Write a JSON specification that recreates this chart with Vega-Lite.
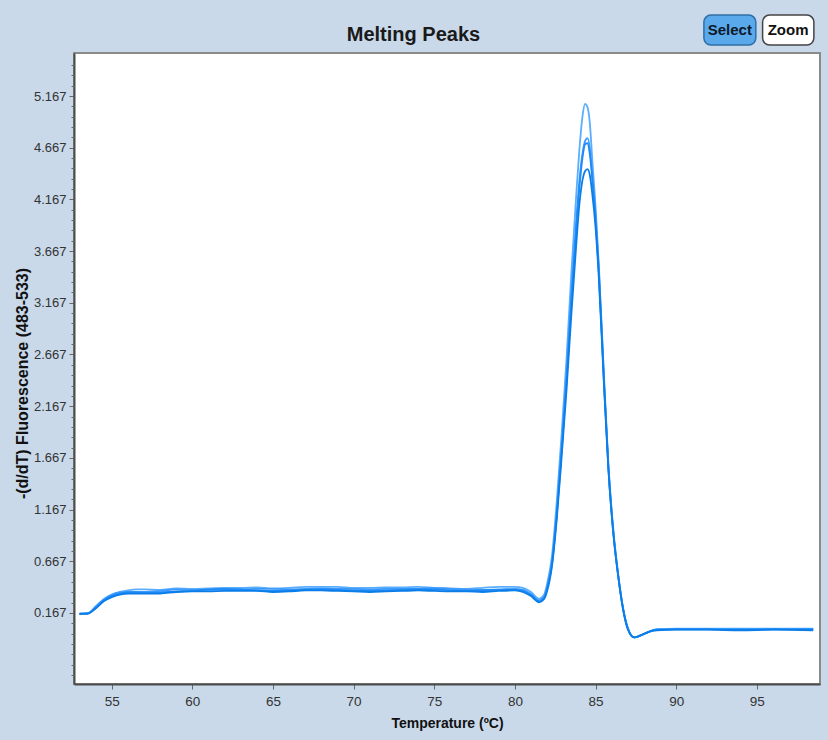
{
"$schema": "https://vega.github.io/schema/vega-lite/v6.json",
"width": 746, "height": 631,
"autosize": {"type": "none"},
"padding": {"left": 74, "top": 53, "right": 8, "bottom": 56},
"background": "#c9d9ea",
"config": {"view": {"fill": "white", "stroke": "#8a8a8a", "strokeWidth": 2}, "font": "Liberation Sans"},
"resolve": {"axis": {"y": "independent"}},
"data": {"values": [
{"r":"A","t":53.0,"v":0.160},{"r":"A","t":53.5,"v":0.165},{"r":"A","t":54.0,"v":0.220},{"r":"A","t":54.5,"v":0.290},{"r":"A","t":55.0,"v":0.340},{"r":"A","t":55.5,"v":0.370},{"r":"A","t":56.0,"v":0.385},{"r":"A","t":56.5,"v":0.395},{"r":"A","t":57.0,"v":0.395},{"r":"A","t":58.0,"v":0.390},{"r":"A","t":59.0,"v":0.405},{"r":"A","t":60.0,"v":0.400},{"r":"A","t":61.0,"v":0.405},{"r":"A","t":62.0,"v":0.410},{"r":"A","t":63.0,"v":0.410},{"r":"A","t":64.0,"v":0.415},{"r":"A","t":65.0,"v":0.405},{"r":"A","t":66.0,"v":0.410},{"r":"A","t":67.0,"v":0.420},{"r":"A","t":68.0,"v":0.420},{"r":"A","t":69.0,"v":0.420},{"r":"A","t":70.0,"v":0.410},{"r":"A","t":71.0,"v":0.410},{"r":"A","t":72.0,"v":0.415},{"r":"A","t":73.0,"v":0.415},{"r":"A","t":74.0,"v":0.420},{"r":"A","t":75.0,"v":0.410},{"r":"A","t":76.0,"v":0.405},{"r":"A","t":77.0,"v":0.400},{"r":"A","t":78.0,"v":0.410},{"r":"A","t":79.0,"v":0.420},{"r":"A","t":80.0,"v":0.420},{"r":"A","t":80.5,"v":0.410},{"r":"A","t":81.0,"v":0.370},{"r":"A","t":81.5,"v":0.305},{"r":"A","t":81.8,"v":0.340},{"r":"A","t":82.0,"v":0.450},{"r":"A","t":82.3,"v":0.720},{"r":"A","t":82.6,"v":1.250},{"r":"A","t":82.9,"v":1.900},{"r":"A","t":83.2,"v":2.620},{"r":"A","t":83.5,"v":3.450},{"r":"A","t":83.8,"v":4.200},{"r":"A","t":84.0,"v":4.650},{"r":"A","t":84.2,"v":4.980},{"r":"A","t":84.35,"v":5.090},{"r":"A","t":84.5,"v":5.060},{"r":"A","t":84.65,"v":4.900},{"r":"A","t":84.8,"v":4.550},{"r":"A","t":85.0,"v":4.100},{"r":"A","t":85.2,"v":3.550},{"r":"A","t":85.5,"v":2.550},{"r":"A","t":85.8,"v":1.600},{"r":"A","t":86.1,"v":0.980},{"r":"A","t":86.4,"v":0.550},{"r":"A","t":86.7,"v":0.220},{"r":"A","t":87.0,"v":0.020},{"r":"A","t":87.4,"v":-0.070},{"r":"A","t":87.8,"v":-0.050},{"r":"A","t":88.3,"v":-0.015},{"r":"A","t":88.8,"v":0.010},{"r":"A","t":90.0,"v":0.015},{"r":"A","t":92.0,"v":0.015},{"r":"A","t":94.0,"v":0.015},{"r":"A","t":96.0,"v":0.015},{"r":"A","t":98.5,"v":0.015},
{"r":"B","t":53.0,"v":0.155},{"r":"B","t":53.5,"v":0.160},{"r":"B","t":54.0,"v":0.230},{"r":"B","t":54.5,"v":0.300},{"r":"B","t":55.0,"v":0.345},{"r":"B","t":55.5,"v":0.365},{"r":"B","t":56.0,"v":0.370},{"r":"B","t":56.5,"v":0.370},{"r":"B","t":57.0,"v":0.370},{"r":"B","t":58.0,"v":0.380},{"r":"B","t":59.0,"v":0.395},{"r":"B","t":60.0,"v":0.390},{"r":"B","t":61.0,"v":0.390},{"r":"B","t":62.0,"v":0.395},{"r":"B","t":63.0,"v":0.395},{"r":"B","t":64.0,"v":0.400},{"r":"B","t":65.0,"v":0.400},{"r":"B","t":66.0,"v":0.395},{"r":"B","t":67.0,"v":0.400},{"r":"B","t":68.0,"v":0.405},{"r":"B","t":69.0,"v":0.400},{"r":"B","t":70.0,"v":0.400},{"r":"B","t":71.0,"v":0.395},{"r":"B","t":72.0,"v":0.400},{"r":"B","t":73.0,"v":0.400},{"r":"B","t":74.0,"v":0.400},{"r":"B","t":75.0,"v":0.410},{"r":"B","t":76.0,"v":0.400},{"r":"B","t":77.0,"v":0.395},{"r":"B","t":78.0,"v":0.390},{"r":"B","t":79.0,"v":0.395},{"r":"B","t":80.0,"v":0.400},{"r":"B","t":80.5,"v":0.390},{"r":"B","t":81.0,"v":0.350},{"r":"B","t":81.5,"v":0.290},{"r":"B","t":81.8,"v":0.320},{"r":"B","t":82.0,"v":0.420},{"r":"B","t":82.3,"v":0.660},{"r":"B","t":82.6,"v":1.150},{"r":"B","t":82.9,"v":1.780},{"r":"B","t":83.2,"v":2.450},{"r":"B","t":83.5,"v":3.250},{"r":"B","t":83.8,"v":3.950},{"r":"B","t":84.0,"v":4.350},{"r":"B","t":84.2,"v":4.620},{"r":"B","t":84.35,"v":4.730},{"r":"B","t":84.5,"v":4.760},{"r":"B","t":84.65,"v":4.660},{"r":"B","t":84.8,"v":4.400},{"r":"B","t":85.0,"v":4.020},{"r":"B","t":85.2,"v":3.500},{"r":"B","t":85.5,"v":2.500},{"r":"B","t":85.8,"v":1.580},{"r":"B","t":86.1,"v":0.960},{"r":"B","t":86.4,"v":0.540},{"r":"B","t":86.7,"v":0.220},{"r":"B","t":87.0,"v":0.020},{"r":"B","t":87.4,"v":-0.070},{"r":"B","t":87.8,"v":-0.050},{"r":"B","t":88.3,"v":-0.015},{"r":"B","t":88.8,"v":0.005},{"r":"B","t":90.0,"v":0.010},{"r":"B","t":92.0,"v":0.010},{"r":"B","t":94.0,"v":0.010},{"r":"B","t":96.0,"v":0.010},{"r":"B","t":98.5,"v":0.010},
{"r":"C","t":53.0,"v":0.160},{"r":"C","t":53.5,"v":0.162},{"r":"C","t":54.0,"v":0.215},{"r":"C","t":54.5,"v":0.285},{"r":"C","t":55.0,"v":0.330},{"r":"C","t":55.5,"v":0.355},{"r":"C","t":56.0,"v":0.365},{"r":"C","t":56.5,"v":0.365},{"r":"C","t":57.0,"v":0.360},{"r":"C","t":58.0,"v":0.365},{"r":"C","t":59.0,"v":0.375},{"r":"C","t":60.0,"v":0.380},{"r":"C","t":61.0,"v":0.395},{"r":"C","t":62.0,"v":0.400},{"r":"C","t":63.0,"v":0.395},{"r":"C","t":64.0,"v":0.385},{"r":"C","t":65.0,"v":0.380},{"r":"C","t":66.0,"v":0.385},{"r":"C","t":67.0,"v":0.390},{"r":"C","t":68.0,"v":0.395},{"r":"C","t":69.0,"v":0.390},{"r":"C","t":70.0,"v":0.385},{"r":"C","t":71.0,"v":0.380},{"r":"C","t":72.0,"v":0.385},{"r":"C","t":73.0,"v":0.390},{"r":"C","t":74.0,"v":0.395},{"r":"C","t":75.0,"v":0.395},{"r":"C","t":76.0,"v":0.385},{"r":"C","t":77.0,"v":0.380},{"r":"C","t":78.0,"v":0.385},{"r":"C","t":79.0,"v":0.390},{"r":"C","t":80.0,"v":0.390},{"r":"C","t":80.5,"v":0.380},{"r":"C","t":81.0,"v":0.340},{"r":"C","t":81.5,"v":0.280},{"r":"C","t":81.8,"v":0.310},{"r":"C","t":82.0,"v":0.400},{"r":"C","t":82.3,"v":0.640},{"r":"C","t":82.6,"v":1.120},{"r":"C","t":82.9,"v":1.740},{"r":"C","t":83.2,"v":2.400},{"r":"C","t":83.5,"v":3.180},{"r":"C","t":83.8,"v":3.880},{"r":"C","t":84.0,"v":4.280},{"r":"C","t":84.2,"v":4.580},{"r":"C","t":84.35,"v":4.700},{"r":"C","t":84.5,"v":4.710},{"r":"C","t":84.65,"v":4.600},{"r":"C","t":84.8,"v":4.360},{"r":"C","t":85.0,"v":3.980},{"r":"C","t":85.2,"v":3.480},{"r":"C","t":85.5,"v":2.480},{"r":"C","t":85.8,"v":1.560},{"r":"C","t":86.1,"v":0.950},{"r":"C","t":86.4,"v":0.530},{"r":"C","t":86.7,"v":0.210},{"r":"C","t":87.0,"v":0.020},{"r":"C","t":87.4,"v":-0.070},{"r":"C","t":87.8,"v":-0.050},{"r":"C","t":88.3,"v":-0.015},{"r":"C","t":88.8,"v":0.005},{"r":"C","t":90.0,"v":0.008},{"r":"C","t":92.0,"v":0.008},{"r":"C","t":94.0,"v":0.005},{"r":"C","t":96.0,"v":0.008},{"r":"C","t":98.5,"v":0.008},
{"r":"D","t":53.0,"v":0.158},{"r":"D","t":53.5,"v":0.160},{"r":"D","t":54.0,"v":0.210},{"r":"D","t":54.5,"v":0.280},{"r":"D","t":55.0,"v":0.320},{"r":"D","t":55.5,"v":0.345},{"r":"D","t":56.0,"v":0.355},{"r":"D","t":56.5,"v":0.355},{"r":"D","t":57.0,"v":0.355},{"r":"D","t":58.0,"v":0.355},{"r":"D","t":59.0,"v":0.370},{"r":"D","t":60.0,"v":0.375},{"r":"D","t":61.0,"v":0.375},{"r":"D","t":62.0,"v":0.380},{"r":"D","t":63.0,"v":0.380},{"r":"D","t":64.0,"v":0.380},{"r":"D","t":65.0,"v":0.370},{"r":"D","t":66.0,"v":0.375},{"r":"D","t":67.0,"v":0.385},{"r":"D","t":68.0,"v":0.385},{"r":"D","t":69.0,"v":0.380},{"r":"D","t":70.0,"v":0.375},{"r":"D","t":71.0,"v":0.370},{"r":"D","t":72.0,"v":0.375},{"r":"D","t":73.0,"v":0.380},{"r":"D","t":74.0,"v":0.385},{"r":"D","t":75.0,"v":0.380},{"r":"D","t":76.0,"v":0.375},{"r":"D","t":77.0,"v":0.375},{"r":"D","t":78.0,"v":0.370},{"r":"D","t":79.0,"v":0.380},{"r":"D","t":80.0,"v":0.385},{"r":"D","t":80.5,"v":0.370},{"r":"D","t":81.0,"v":0.330},{"r":"D","t":81.5,"v":0.270},{"r":"D","t":81.8,"v":0.300},{"r":"D","t":82.0,"v":0.380},{"r":"D","t":82.3,"v":0.620},{"r":"D","t":82.6,"v":1.080},{"r":"D","t":82.9,"v":1.680},{"r":"D","t":83.2,"v":2.320},{"r":"D","t":83.5,"v":3.050},{"r":"D","t":83.8,"v":3.720},{"r":"D","t":84.0,"v":4.120},{"r":"D","t":84.2,"v":4.360},{"r":"D","t":84.35,"v":4.440},{"r":"D","t":84.5,"v":4.460},{"r":"D","t":84.65,"v":4.400},{"r":"D","t":84.8,"v":4.220},{"r":"D","t":85.0,"v":3.900},{"r":"D","t":85.2,"v":3.420},{"r":"D","t":85.5,"v":2.450},{"r":"D","t":85.8,"v":1.550},{"r":"D","t":86.1,"v":0.940},{"r":"D","t":86.4,"v":0.530},{"r":"D","t":86.7,"v":0.210},{"r":"D","t":87.0,"v":0.010},{"r":"D","t":87.4,"v":-0.070},{"r":"D","t":87.8,"v":-0.050},{"r":"D","t":88.3,"v":-0.015},{"r":"D","t":88.8,"v":0.000},{"r":"D","t":90.0,"v":0.005},{"r":"D","t":92.0,"v":0.005},{"r":"D","t":94.0,"v":0.000},{"r":"D","t":96.0,"v":0.005},{"r":"D","t":98.5,"v":0.000}
]},
"layer": [
{"mark": {"type": "line", "strokeWidth": 1.8, "interpolate": "monotone"},
 "encoding": {
  "x": {"field": "t", "type": "quantitative",
        "scale": {"domain": [52.66, 98.92], "nice": false, "zero": false},
        "axis": {"title": "Temperature (ºC)", "values": [55,60,65,70,75,80,85,90,95], "grid": false,
                 "domainColor": "#4d4d4d", "domainWidth": 2, "tickColor": "#666666", "tickSize": 5,
                 "labelFontSize": 13.5, "labelColor": "#333333", "labelFont": "Liberation Sans", "labelPadding": 5,
                 "titleFontSize": 14, "titleFont": "Liberation Sans", "titleFontWeight": "bold", "titleColor": "#111111",
                 "titleY": 43, "titleBaseline": "alphabetic"}},
  "y": {"field": "v", "type": "quantitative",
        "scale": {"domain": [-0.52, 5.583], "nice": false, "zero": false},
        "axis": {"orient": "left", "title": "-(d/dT) Fluorescence (483-533)", "grid": false,
                 "values": [0.167,0.667,1.167,1.667,2.167,2.667,3.167,3.667,4.167,4.667,5.167],
                 "format": ".3f", "labelOverlap": false,
                 "domainColor": "#4d4d4d", "domainWidth": 2, "tickColor": "#666666", "tickSize": 5,
                 "labelFontSize": 13, "labelColor": "#333333", "labelFont": "Liberation Sans", "labelPadding": 3,
                 "titleFontSize": 16, "titleFont": "Liberation Sans", "titleFontWeight": "bold", "titleColor": "#111111",
                 "titleX": -52, "titleY": 330, "titleBaseline": "middle", "titleAlign": "center"}},
  "color": {"field": "r", "type": "nominal", "legend": null,
            "scale": {"domain": ["A","B","C","D"], "range": ["#5aaeff", "#3d9bff", "#1f8af5", "#0a7de8"]}}
 }},
{"data": {"values": [{"label": "Select"}]},
 "mark": {"type": "rect", "fill": "#5aa9ea", "stroke": "#2f6fa8", "strokeWidth": 1.5, "cornerRadius": 7},
 "encoding": {
  "x": {"datum": 91.72, "type": "quantitative", "scale": {"domain": [52.66, 98.92], "nice": false, "zero": false}},
  "x2": {"datum": 94.94},
  "y": {"datum": 5.95, "type": "quantitative", "scale": {"domain": [-0.52, 5.583], "nice": false, "zero": false},
        "axis": {"orient": "left", "title": null, "labels": false, "domain": false, "grid": false, "tickSize": 3, "tickColor": "#666666",
                 "values": [-0.433,-0.333,-0.233,-0.133,-0.033,0.067,0.267,0.367,0.467,0.567,0.767,0.867,0.967,1.067,1.267,1.367,1.467,1.567,1.767,1.867,1.967,2.067,2.267,2.367,2.467,2.567,2.767,2.867,2.967,3.067,3.267,3.367,3.467,3.567,3.767,3.867,3.967,4.067,4.267,4.367,4.467,4.567,4.767,4.867,4.967,5.067,5.267,5.367,5.467]}},
  "y2": {"datum": 5.66}
 }},
{"data": {"values": [{"label": "Zoom"}]},
 "mark": {"type": "rect", "fill": "white", "stroke": "#444444", "strokeWidth": 1.5, "cornerRadius": 7},
 "encoding": {
  "x": {"datum": 95.36, "type": "quantitative", "scale": {"domain": [52.66, 98.92], "nice": false, "zero": false}},
  "x2": {"datum": 98.54},
  "y": {"datum": 5.95, "type": "quantitative", "scale": {"domain": [-0.52, 5.583], "nice": false, "zero": false}, "axis": null},
  "y2": {"datum": 5.66}
 }},
{"data": {"values": [{"label": "Select"}]},
 "mark": {"type": "text", "fontSize": 15, "fontWeight": "bold", "font": "Liberation Sans", "color": "#0d1a2a", "baseline": "middle", "align": "center"},
 "encoding": {
  "x": {"datum": 93.33, "type": "quantitative", "scale": {"domain": [52.66, 98.92], "nice": false, "zero": false}},
  "y": {"datum": 5.805, "type": "quantitative", "scale": {"domain": [-0.52, 5.583], "nice": false, "zero": false}, "axis": null},
  "text": {"field": "label"}
 }},
{"data": {"values": [{"label": "Zoom"}]},
 "mark": {"type": "text", "fontSize": 15, "fontWeight": "bold", "font": "Liberation Sans", "color": "#111111", "baseline": "middle", "align": "center"},
 "encoding": {
  "x": {"datum": 96.94, "type": "quantitative", "scale": {"domain": [52.66, 98.92], "nice": false, "zero": false}},
  "y": {"datum": 5.805, "type": "quantitative", "scale": {"domain": [-0.52, 5.583], "nice": false, "zero": false}, "axis": null},
  "text": {"field": "label"}
 }},
{"data": {"values": [{"label": "Melting Peaks"}]},
 "mark": {"type": "text", "fontSize": 20, "fontWeight": "bold", "font": "Liberation Sans", "color": "#1a1a1a", "baseline": "alphabetic", "align": "center"},
 "encoding": {
  "x": {"datum": 73.71, "type": "quantitative", "scale": {"domain": [52.66, 98.92], "nice": false, "zero": false}},
  "y": {"datum": 5.699, "type": "quantitative", "scale": {"domain": [-0.52, 5.583], "nice": false, "zero": false}, "axis": null},
  "text": {"field": "label"}
 }}
]
}
